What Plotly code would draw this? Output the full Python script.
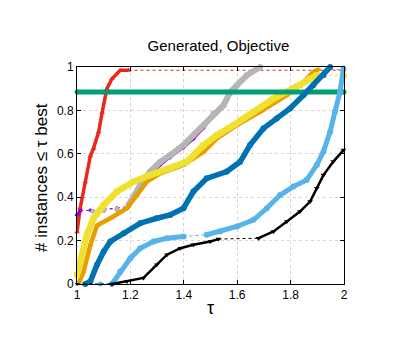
import plotly.graph_objects as go

# ---- data (tau, fraction of instances) ----
red_x = [1.0, 1.012, 1.031, 1.05, 1.062, 1.081, 1.094, 1.112, 1.131, 1.162, 1.193, 2.0]
red_y = [0.24, 0.35, 0.47, 0.59, 0.625, 0.70, 0.79, 0.90, 0.946, 0.985, 0.985, 0.985]
red_dotted = [10]

green_x = [1.0, 2.0]
green_y = [0.885, 0.885]
green_dotted = []

purple_x = [1.0, 1.012, 1.05, 1.1, 1.15, 1.193, 1.237, 1.274, 1.312, 1.349, 1.399, 1.436,
            1.474, 1.511, 1.549, 1.574, 1.599, 1.636, 1.686]
purple_y = [0.318, 0.337, 0.34, 0.345, 0.35, 0.357, 0.44, 0.50, 0.55, 0.585, 0.63, 0.67,
            0.72, 0.78, 0.82, 0.875, 0.91, 0.955, 1.0]
purple_dotted = [1, 2, 3, 4]

gray_x = [1.06, 1.1, 1.15, 1.193, 1.237, 1.274, 1.312, 1.349, 1.399, 1.436, 1.474, 1.511,
          1.549, 1.574, 1.599, 1.636, 1.686]
gray_y = [0.335, 0.34, 0.345, 0.364, 0.456, 0.518, 0.563, 0.594, 0.64, 0.686, 0.732, 0.786,
          0.824, 0.885, 0.916, 0.962, 1.0]
gray_dotted = [0, 1, 2]

orange_x = [1.006, 1.025, 1.05, 1.075, 1.125, 1.187, 1.224, 1.262, 1.312, 1.399, 1.474, 1.524,
            1.599, 1.686, 1.786, 1.848, 1.885, 1.904, 2.0]
orange_y = [0.0, 0.058, 0.18, 0.27, 0.303, 0.349, 0.41, 0.472, 0.51, 0.548, 0.61, 0.671,
            0.732, 0.793, 0.87, 0.931, 0.977, 0.989, 0.989]
orange_dotted = [17]

yellow_x = [1.0, 1.019, 1.037, 1.062, 1.1, 1.15, 1.212, 1.274, 1.349, 1.411, 1.474, 1.524,
            1.586, 1.661, 1.736, 1.786, 1.835, 1.873, 1.898, 2.0]
yellow_y = [0.043, 0.135, 0.227, 0.303, 0.364, 0.426, 0.472, 0.502, 0.533, 0.563, 0.64, 0.686,
            0.732, 0.793, 0.854, 0.885, 0.916, 0.946, 0.962, 0.962]
yellow_dotted = [18]

blue_x = [1.031, 1.05, 1.075, 1.1, 1.125, 1.175, 1.237, 1.299, 1.349, 1.399, 1.436, 1.486,
          1.561, 1.611, 1.648, 1.698, 1.748, 1.798, 1.848, 1.885, 1.923, 1.948]
blue_y = [0.0, 0.012, 0.089, 0.15, 0.196, 0.234, 0.28, 0.303, 0.318, 0.349, 0.426, 0.487,
          0.518, 0.563, 0.64, 0.717, 0.763, 0.809, 0.87, 0.916, 0.962, 1.0]
blue_dotted = []

lblue_x = [1.087, 1.131, 1.162, 1.2, 1.237, 1.287, 1.337, 1.399, 1.486, 1.536, 1.599, 1.661,
           1.711, 1.761, 1.81, 1.86, 1.898, 1.923, 1.948, 1.966, 1.985, 1.998]
lblue_y = [0.0, 0.0, 0.058, 0.119, 0.165, 0.196, 0.211, 0.219, 0.227, 0.242, 0.265, 0.296,
           0.349, 0.41, 0.449, 0.479, 0.548, 0.61, 0.701, 0.793, 0.885, 0.992]
lblue_dotted = [0, 7]

black_x = [1.0, 1.131, 1.187, 1.249, 1.299, 1.337, 1.387, 1.436, 1.499, 1.53, 1.68, 1.736,
           1.786, 1.835, 1.873, 1.898, 1.923, 1.96, 1.998]
black_y = [0.0, 0.0, 0.012, 0.028, 0.089, 0.135, 0.165, 0.181, 0.196, 0.207, 0.211, 0.242,
           0.288, 0.334, 0.38, 0.441, 0.502, 0.564, 0.617]
black_dotted = [0, 9]

x_ticks = [1, 1.2, 1.4, 1.6, 1.8, 2]
x_labels = ["1", "1.2", "1.4", "1.6", "1.8", "2"]
y_ticks = [0, 0.2, 0.4, 0.6, 0.8, 1]
y_labels = ["0", "0.2", "0.4", "0.6", "0.8", "1"]

fig = go.Figure()


def add_series(xs, ys, dotted, color, symbol, width, msize):
    n = len(xs)
    run = []
    runs = []
    for i in range(n - 1):
        if i in dotted:
            if run:
                runs.append(run)
                run = []
        else:
            if not run:
                run = [i]
            run.append(i + 1)
    if run:
        runs.append(run)
    marker = dict(color=color, symbol=symbol, size=msize)
    for r in runs:
        fig.add_trace(go.Scatter(
            x=[xs[k] for k in r], y=[ys[k] for k in r], mode="lines+markers",
            line=dict(color=color, width=width), marker=marker,
            cliponaxis=False, showlegend=False, hoverinfo="skip"))
    for i in dotted:
        fig.add_trace(go.Scatter(
            x=[xs[i], xs[i + 1]], y=[ys[i], ys[i + 1]], mode="lines+markers",
            line=dict(color=color, width=1, dash="dot"),
            marker=dict(color=color, symbol=symbol, size=max(msize - 1, 3)),
            cliponaxis=False, showlegend=False, hoverinfo="skip"))


add_series(red_x, red_y, red_dotted, "#e8291c", "triangle-up", 3.5, 5)
add_series(purple_x, purple_y, purple_dotted, "#9400d3", "diamond", 3, 4)
add_series(gray_x, gray_y, gray_dotted, "#b5b5b5", "circle", 6, 6)
add_series(orange_x, orange_y, orange_dotted, "#e69f00", "triangle-up", 4.5, 5)
add_series(yellow_x, yellow_y, yellow_dotted, "#f0e130", "square", 6.5, 6)
add_series(green_x, green_y, green_dotted, "#009e73", "circle", 5, 5)
add_series(blue_x, blue_y, blue_dotted, "#0072b2", "circle", 5.5, 6)
add_series(lblue_x, lblue_y, lblue_dotted, "#56b4e9", "circle", 5, 6)
add_series(black_x, black_y, black_dotted, "#000000", "triangle-down", 2.5, 5)

axis_common = dict(
    showline=True, linecolor="black", linewidth=1, mirror="ticks",
    ticks="inside", ticklen=4, tickcolor="black",
    showgrid=True, gridcolor="#d4d4d4", griddash="dot", gridwidth=1,
    zeroline=False, tickfont=dict(family="Liberation Sans, Arial", size=12, color="black"),
)

fig.update_layout(
    width=407, height=352,
    margin=dict(l=69, r=71, t=59, b=76),
    paper_bgcolor="white", plot_bgcolor="white",
    title=dict(text="Generated, Objective", x=0.517, xanchor="center",
               y=1 - 37.5 / 352, yanchor="middle", yref="container",
               font=dict(family="Liberation Sans, Arial", size=15, color="black")),
    xaxis=dict(range=[1, 2], tickvals=x_ticks, ticktext=x_labels, **axis_common),
    yaxis=dict(range=[0, 1], tickvals=y_ticks, ticktext=y_labels, **axis_common),
    annotations=[
        dict(text="# instances ≤ τ best", xref="paper", yref="paper",
             x=-0.135, y=0.493, textangle=-90, showarrow=False,
             xanchor="center", yanchor="middle",
             font=dict(family="Liberation Sans, Arial", size=17, color="black")),
        dict(text="τ", xref="paper", yref="paper", x=0.5, y=-0.11,
             showarrow=False, xanchor="center", yanchor="middle",
             font=dict(family="Liberation Sans, Arial", size=18, color="black")),
    ],
)

fig.write_html("out.html")
